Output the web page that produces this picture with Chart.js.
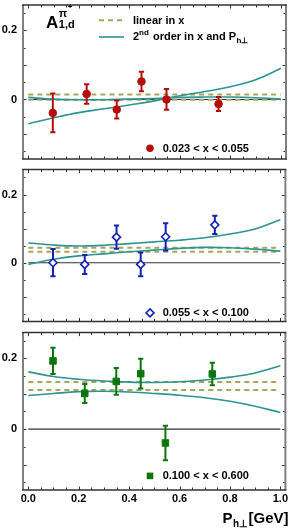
<!DOCTYPE html>
<html><head><meta charset="utf-8">
<script src="https://cdn.jsdelivr.net/npm/chart.js@4.4.1/dist/chart.umd.min.js"></script>
<style>
html,body{margin:0;padding:0;background:#fff;}
body{width:291px;height:528px;position:relative;overflow:hidden}
canvas{position:absolute;left:0;display:block}
</style></head><body>
<canvas id="c1" width="291" height="164" style="top:0px;width:291px;height:164px"></canvas>
<canvas id="c2" width="291" height="163" style="top:164px;width:291px;height:163px"></canvas>
<canvas id="c3" width="291" height="201" style="top:327px;width:291px;height:201px"></canvas>
<script>
// ---------------- data ----------------
const curveX = [0, 0.1, 0.2, 0.3, 0.4, 0.5, 0.6, 0.7, 0.8, 0.9, 1.0];
const bandX = [0, 1];
const xTickLabels = ['0.0', '0.2', '0.4', '0.6', '0.8', '1.0'];
const yTickLabels = ['0', '0.2'];

const bin1Label = '0.023 < x < 0.055';
const bin1X = [0.097, 0.231, 0.350, 0.448, 0.547, 0.753];
const bin1Y = [-0.039, 0.016, -0.029, 0.052, 0.000, -0.013];
const bin1Err = [0.056, 0.028, 0.026, 0.028, 0.030, 0.020];
const bin1LinHi = 0.0145, bin1LinLo = -0.001;
const bin1CurveA = [-0.070, -0.053, -0.038, -0.027, -0.016, -0.004, 0.011, 0.023, 0.037, 0.057, 0.090];
const bin1CurveB = [0.006, 0.001, -0.001, -0.001, 0.001, 0.003, 0.006, 0.007, 0.007, 0.005, 0.001];

const bin2Label = '0.055 < x < 0.100';
const bin2X = [0.098, 0.224, 0.350, 0.446, 0.545, 0.740];
const bin2Y = [0.000, -0.005, 0.075, -0.005, 0.076, 0.111];
const bin2Err = [0.040, 0.028, 0.034, 0.035, 0.040, 0.027];
const bin2LinHi = 0.044, bin2LinLo = 0.032;
const bin2CurveA = [0.058, 0.052, 0.049, 0.051, 0.056, 0.061, 0.066, 0.073, 0.084, 0.099, 0.126];
const bin2CurveB = [-0.005, 0.010, 0.020, 0.026, 0.032, 0.037, 0.042, 0.045, 0.044, 0.040, 0.034];

const bin3Label = '0.100 < x < 0.600';
const bin3X = [0.098, 0.224, 0.349, 0.446, 0.544, 0.730];
const bin3Y = [0.193, 0.101, 0.135, 0.157, -0.039, 0.156];
const bin3Err = [0.037, 0.027, 0.038, 0.042, 0.049, 0.032];
const bin3LinHi = 0.133, bin3LinLo = 0.111;
const bin3CurveA = [0.162, 0.149, 0.141, 0.136, 0.133, 0.132, 0.134, 0.139, 0.147, 0.159, 0.179];
const bin3CurveB = [0.095, 0.101, 0.106, 0.107, 0.105, 0.101, 0.096, 0.089, 0.079, 0.065, 0.047];

// ---------------- style ----------------
const FONT = "'Liberation Sans', Arial, Helvetica, sans-serif";
const X_MIN = -0.021, X_MAX = 1.02, Y_MIN = -0.172, Y_MAX = 0.273;
const RED = '#b80c0c', BLUE = '#1424b4', GREEN = '#0c760c', TEAL = '#2c9494', OLIVE = '#a9a45e';

Chart.defaults.font.family = FONT;
Chart.defaults.font.weight = 'bold';
Chart.defaults.color = '#000';

function drawMarker(ctx, kind, color, x, y) {
  ctx.save();
  ctx.beginPath();
  if (kind === 'circle') {
    ctx.arc(x, y, 3.8, 0, Math.PI * 2);
    ctx.fillStyle = color; ctx.fill();
  } else if (kind === 'diamond') {
    ctx.moveTo(x, y - 4); ctx.lineTo(x + 4, y); ctx.lineTo(x, y + 4); ctx.lineTo(x - 4, y); ctx.closePath();
    ctx.fillStyle = '#fff'; ctx.fill();
    ctx.strokeStyle = color; ctx.lineWidth = 1.6; ctx.stroke();
  } else {
    ctx.rect(x - 3.3, y - 3.3, 6.6, 6.6);
    ctx.fillStyle = color; ctx.fill();
  }
  ctx.restore();
}

function drawRich(ctx, x, parts) {
  let cx = x;
  for (const p of parts) {
    ctx.font = 'bold ' + p.size + 'px ' + FONT;
    ctx.fillText(p.t, cx + (p.dx || 0), p.y);
    if (!p.noAdvance) cx += ctx.measureText(p.t).width + (p.dx || 0);
  }
  return cx;
}

const decoPlugin = {
  id: 'deco',
  beforeDatasetDraw(chart, args, o) {
    if (args.index !== 0) return;
    const ctx = chart.ctx, xs = chart.scales.x, ys = chart.scales.y;
    const ds = chart.data.datasets[0];
    ctx.save();
    ctx.strokeStyle = o.color; ctx.lineWidth = 2;
    ds.data.forEach((p, i) => {
      const e = o.err[i];
      const px = xs.getPixelForValue(p.x);
      const t = ys.getPixelForValue(p.y + e), b = ys.getPixelForValue(p.y - e);
      ctx.beginPath();
      ctx.moveTo(px, t); ctx.lineTo(px, b);
      ctx.moveTo(px - 2.6, t); ctx.lineTo(px + 2.6, t);
      ctx.moveTo(px - 2.6, b); ctx.lineTo(px + 2.6, b);
      ctx.stroke();
    });
    ctx.restore();
  },
  afterDraw(chart, args, o) {
    const ctx = chart.ctx, a = chart.chartArea, xs = chart.scales.x, ys = chart.scales.y;
    ctx.save();
    // inward ticks
    ctx.strokeStyle = '#333'; ctx.lineWidth = 1;
    ctx.beginPath();
    for (let k = 0; k <= 20; k++) {
      const px = Math.round(xs.getPixelForValue(k * 0.05)) + 0.5;
      const L = (k % 4 === 0) ? 3.5 : 2.5;
      ctx.moveTo(px, a.top); ctx.lineTo(px, a.top + L);
      ctx.moveTo(px, a.bottom); ctx.lineTo(px, a.bottom - L);
    }
    for (let k = -3; k <= 5; k++) {
      const py = Math.round(ys.getPixelForValue(k * 0.05)) + 0.5;
      const L = (k % 2 === 0) ? 3.5 : 2.5;
      ctx.moveTo(a.left, py); ctx.lineTo(a.left + L, py);
      ctx.moveTo(a.right, py); ctx.lineTo(a.right - L, py);
    }
    ctx.stroke();
    // frame
    ctx.strokeStyle = '#7f7f7f'; ctx.lineWidth = 2;
    ctx.beginPath();
    ctx.moveTo(a.left, a.top); ctx.lineTo(a.left, a.bottom);
    ctx.moveTo(a.right, a.top); ctx.lineTo(a.right, a.bottom);
    ctx.stroke();
    ctx.strokeStyle = '#333'; ctx.lineWidth = 1.5;
    ctx.beginPath();
    ctx.moveTo(a.left - 1, a.top); ctx.lineTo(a.right + 1, a.top);
    ctx.moveTo(a.left - 1, a.bottom); ctx.lineTo(a.right + 1, a.bottom);
    ctx.stroke();

    ctx.fillStyle = '#000';
    ctx.textBaseline = 'alphabetic'; ctx.textAlign = 'left';
    // bin label
    drawMarker(ctx, o.marker, o.color, 150, a.top + 143.3);
    ctx.font = 'bold 11px ' + FONT;
    ctx.fillText(o.label, 162.7, a.top + 146.8);

    if (o.legend) {
      // A^{pi+}_{1,d}
      ctx.font = 'bold 17px ' + FONT;
      ctx.fillText('A', 46, 28.3);
      const ax = 46 + ctx.measureText('A').width + 0.5;
      ctx.font = 'bold 11px ' + FONT;
      ctx.fillText('π', ax, 16.5);
      const px2 = ax + ctx.measureText('π').width;
      ctx.font = 'bold 8px ' + FONT;
      ctx.fillText('+', px2 + 0.5, 8.5);
      ctx.font = 'bold 11px ' + FONT;
      ctx.fillText('1,d', ax, 28.3);
      // legend samples
      ctx.save();
      ctx.strokeStyle = OLIVE; ctx.lineWidth = 2; ctx.setLineDash([5, 4]);
      ctx.beginPath(); ctx.moveTo(99, 20.3); ctx.lineTo(124, 20.3); ctx.stroke();
      ctx.restore();
      ctx.save();
      ctx.strokeStyle = TEAL; ctx.lineWidth = 1.6;
      ctx.beginPath(); ctx.moveTo(99, 37); ctx.lineTo(124, 37); ctx.stroke();
      ctx.restore();
      ctx.font = 'bold 11px ' + FONT;
      ctx.fillText('linear in x', 133, 23.5);
      drawRich(ctx, 133, [
        { t: '2', size: 11, y: 39.5 },
        { t: 'nd', size: 8, y: 35 },
        { t: ' order in x and ', size: 11, y: 39.5, dx: 1 },
        { t: 'P', size: 11, y: 39.5 },
        { t: 'h⊥', size: 8, y: 42.5, dx: 0.5 }
      ]);
    }
    if (o.xTitle) {
      const by = a.bottom + 32.5;
      drawRich(ctx, 222.5, [
        { t: 'P', size: 15, y: by },
        { t: 'h⊥', size: 10, y: by + 4.5, dx: 0.5 },
        { t: '[GeV]', size: 15, y: by, dx: 0.5 }
      ]);
    }
    ctx.restore();
  }
};

function pts(xs, ys) { return xs.map((x, i) => ({ x: x, y: ys[i] })); }
function constLine(v) { return bandX.map(x => ({ x: x, y: v })); }

function makePanel(id, p) {
  const lineDs = (data, color, dash, order, width) => ({
    data: data, showLine: true, pointRadius: 0, pointHoverRadius: 0,
    borderColor: color, borderWidth: width, borderDash: dash || [],
    tension: 0.4, fill: false, order: order
  });
  const datasets = [
    { data: pts(p.x, p.y), showLine: false, pointStyle: p.pointStyle, pointRadius: p.radius,
      pointBackgroundColor: p.fill, pointBorderColor: p.color, pointBorderWidth: p.bw, order: 0 },
    lineDs(pts(curveX, p.curveA), TEAL, null, 1, 1.6),
    lineDs(pts(curveX, p.curveB), TEAL, null, 1, 1.6),
    lineDs(constLine(p.linHi), OLIVE, [5, 4], 2, 2),
    lineDs(constLine(p.linLo), OLIVE, [5, 4], 2, 2),
    lineDs(constLine(0), '#333', null, 3, 1.2)
  ];
  const xAxis = p.showX ? {
    type: 'linear', min: X_MIN, max: X_MAX, display: true,
    afterBuildTicks: s => { s.ticks = xTickLabels.map(t => ({ value: parseFloat(t) })); },
    afterFit: s => { s.height = 38; s.paddingLeft = 0; s.paddingRight = 0; },
    grid: { display: false, drawTicks: false }, border: { display: false },
    ticks: { padding: 2, maxRotation: 0, autoSkip: false, color: '#000',
      font: { size: 11, weight: 'bold' }, callback: (v, i) => xTickLabels[i] }
  } : { type: 'linear', min: X_MIN, max: X_MAX, display: false };
  return new Chart(document.getElementById(id), {
    type: 'scatter',
    data: { datasets: datasets },
    options: {
      responsive: false, animation: false, devicePixelRatio: 1,
      layout: { padding: { left: 0, right: 5, top: p.top, bottom: 0 } },
      scales: {
        x: xAxis,
        y: {
          type: 'linear', min: Y_MIN, max: Y_MAX,
          afterBuildTicks: s => { s.ticks = yTickLabels.map(t => ({ value: parseFloat(t) })); },
          afterFit: s => { s.width = 23; s.paddingTop = 0; s.paddingBottom = 0; },
          grid: { display: false, drawTicks: false }, border: { display: false },
          ticks: { padding: 6, color: '#000', font: { size: 11, weight: 'bold' },
            callback: (v, i) => yTickLabels[i] }
        }
      },
      plugins: {
        legend: { display: false }, tooltip: { enabled: false },
        deco: { color: p.color, err: p.err, label: p.label, marker: p.marker,
          legend: !!p.legend, xTitle: !!p.showX }
      }
    },
    plugins: [decoPlugin]
  });
}

makePanel('c1', { x: bin1X, y: bin1Y, err: bin1Err, linHi: bin1LinHi, linLo: bin1LinLo,
  curveA: bin1CurveA, curveB: bin1CurveB, label: bin1Label, color: RED, fill: RED,
  pointStyle: 'circle', radius: 3.8, bw: 1, marker: 'circle', top: 1, legend: true });
makePanel('c2', { x: bin2X, y: bin2Y, err: bin2Err, linHi: bin2LinHi, linLo: bin2LinLo,
  curveA: bin2CurveA, curveB: bin2CurveB, label: bin2Label, color: BLUE, fill: '#fff',
  pointStyle: 'rectRot', radius: 4, bw: 1.6, marker: 'diamond', top: 0 });
makePanel('c3', { x: bin3X, y: bin3Y, err: bin3Err, linHi: bin3LinHi, linLo: bin3LinLo,
  curveA: bin3CurveA, curveB: bin3CurveB, label: bin3Label, color: GREEN, fill: GREEN,
  pointStyle: 'rect', radius: 4.6, bw: 1, marker: 'square', top: 0, showX: true });
</script>
</body></html>
